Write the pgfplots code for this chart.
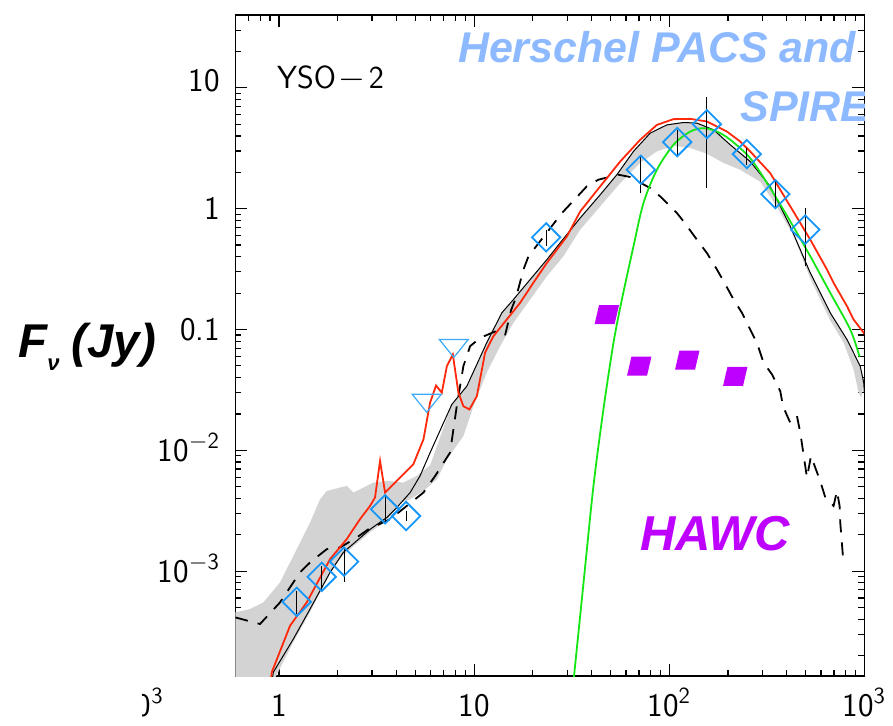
\documentclass[border=0pt]{standalone}
\usepackage{fontspec}
\usepackage{pgfplots}
\pgfplotsset{compat=1.18}
\newfontfamily\arialfont{Liberation Sans}
\definecolor{dblue}{RGB}{20,150,250}
\definecolor{tblue}{RGB}{60,170,250}
\definecolor{hblue}{RGB}{140,185,255}
\definecolor{mag}{RGB}{190,0,255}
\definecolor{rline}{RGB}{255,40,10}
\definecolor{gline}{RGB}{20,230,20}
\definecolor{band}{RGB}{211,211,211}
\pgfdeclareplotmark{odiam}{%
  \pgfpathmoveto{\pgfqpoint{0pt}{7.1pt}}%
  \pgfpathlineto{\pgfqpoint{7.1pt}{0pt}}%
  \pgfpathlineto{\pgfqpoint{0pt}{-7.1pt}}%
  \pgfpathlineto{\pgfqpoint{-7.1pt}{0pt}}%
  \pgfpathclose\pgfusepathqstroke}
\pgfdeclareplotmark{otridown}{%
  \pgfpathmoveto{\pgfqpoint{-7.25pt}{4.5pt}}%
  \pgfpathlineto{\pgfqpoint{7.25pt}{4.5pt}}%
  \pgfpathlineto{\pgfqpoint{0pt}{-4.5pt}}%
  \pgfpathclose\pgfusepathqstroke}
\pgfdeclareplotmark{para}{%
  \pgfpathmoveto{\pgfqpoint{-6.1pt}{-4.75pt}}%
  \pgfpathlineto{\pgfqpoint{3.9pt}{-4.75pt}}%
  \pgfpathlineto{\pgfqpoint{6.1pt}{4.75pt}}%
  \pgfpathlineto{\pgfqpoint{-3.9pt}{4.75pt}}%
  \pgfpathclose\pgfusepathqfill}
\begin{document}
\begin{tikzpicture}
\useasboundingbox (-117.65pt,-24.5pt) rectangle (328.85pt,338pt);
\begin{axis}[
  at={(0,0)}, anchor=south west,
  scale only axis, width=314.5pt, height=330.5pt,
  xmode=log, ymode=log,
  xmin=0.597, xmax=1000, ymin=1.355e-4, ymax=40.1,
  xtick={1,10,100,1000},
  xticklabels={1,10,10\textsuperscript{2},10\textsuperscript{3}},
  ytick={0.001,0.01,0.1,1,10},
  yticklabels={10\textsuperscript{$-$3},10\textsuperscript{$-$2},0.1,1,\raisebox{3.5pt}{10}},
  minor xtick={0.6,0.7,0.8,0.9,2,3,4,5,6,7,8,9,20,30,40,50,60,70,80,90,200,300,400,500,600,700,800,900},
  minor ytick={2e-4,3e-4,4e-4,5e-4,6e-4,7e-4,8e-4,9e-4,2e-3,3e-3,4e-3,5e-3,6e-3,7e-3,8e-3,9e-3,0.02,0.03,0.04,0.05,0.06,0.07,0.08,0.09,0.2,0.3,0.4,0.5,0.6,0.7,0.8,0.9,2,3,4,5,6,7,8,9,20,30,40},
  /pgf/number format/assume math mode=true,
  ticklabel style={font=\sffamily\fontsize{16.5}{18}\selectfont, inner sep=0pt},
  xticklabel style={anchor=base, yshift=-20pt},
  yticklabel style={anchor=base east, yshift=-5.5pt, xshift=-7.5pt},
  major tick length=6pt, minor tick length=3pt,
  tick style={black, line width=0.6pt},
  axis line style={line width=0.7pt},
]
% gray band
\addplot[fill=band, draw=none] coordinates {
(0.597,4.56e-4) (0.710,4.85e-4) (0.831,5.51e-4) (1.012,8.07e-4) (1.232,1.52e-3) (1.442,2.52e-3) (1.623,3.92e-3) (1.757,4.61e-3) (2.055,4.92e-3) (2.224,5.07e-3) (2.405,4.47e-3) (2.71,4.92e-3) (3.045,5.41e-3) (3.57,5.58e-3) (4.34,5.41e-3) (5.08,6.13e-3) (5.95,7.52e-3) (7.69,0.024) (9.18,0.034) (11.6,0.0776) (13.87,0.1374) (15.9,0.177) (19.37,0.259) (23.6,0.379) (27.6,0.521) (34.97,0.838) (44.3,1.305) (53.9,1.91) (65.6,2.98) (79.9,4.22) (97.3,4.94) (118.4,5.17) (138.7,5.11) (168.7,4.50) (205.5,3.38) (260,2.46) (329.4,1.53) (417.4,0.714) (528.6,0.294) (669,0.1374) (815,0.0827) (953,0.0497) (993,0.0363)
(966,0.0274) (935,0.030) (881,0.0467) (783,0.0781) (669,0.1187) (528.6,0.264) (434,0.598) (353.7,1.059) (293,1.67) (231,2.10) (189,2.40) (156,2.85) (128.2,3.18) (105.2,3.32) (86.5,2.98) (71.0,2.39) (56.1,1.63) (44.3,1.045) (35.0,0.671) (28.7,0.404) (23.6,0.276) (19.37,0.177) (15.9,0.1136) (13.6,0.0728) (11.6,0.0439) (9.92,0.0232) (8.81,0.0131) (7.25,8.43e-3) (6.44,5.75e-3) (5.47,4.58e-3) (4.70,3.94e-3) (4.175,3.65e-3) (3.57,2.64e-3) (2.93,2.10e-3) (2.136,1.36e-3) (1.826,9.62e-4) (1.442,4.58e-4) (1.184,2.59e-4) (0.93,1.2e-4) (0.597,1.2e-4)
} -- cycle;
% dashed model
\addplot[black, line width=0.9pt, dash pattern=on 6.5pt off 5pt] coordinates {
(0.597,4.14e-4) (0.799,3.65e-4) (1.012,5.51e-4) (1.281,9.75e-4) (1.442,1.18e-3) (1.757,1.52e-3) (2.055,1.57e-3) (2.503,1.90e-3) (2.87,2.22e-3) (3.71,2.69e-3) (4.52,3.47e-3) (5.50,4.47e-3) (6.31,6.13e-3) (7.53,9.57e-3) (8.15,0.0232) (8.81,0.0497) (9.54,0.0728) (10.74,0.0853) (12.82,0.0963) (14.4,0.0892) (15.5,0.146) (16.4,0.184) (17.9,0.313) (19.0,0.404) (28.2,0.921) (31.7,1.127) (37.8,1.53) (43.4,1.74) (55.0,1.91) (63.1,1.83) (79.9,1.48) (89.9,1.264) (109.5,0.921) (118.4,0.786) (138.7,0.554) (156,0.430) (175.8,0.313) (190,0.251) (213.8,0.177) (236,0.1374) (260,0.100) (281.6,0.0776) (304.6,0.0531) (336.4,0.0425) (371,0.0309) (382.8,0.0232) (417.4,0.0169) (451.6,0.0192) (469.8,0.0140) (508.2,5.94e-3) (533,8.97e-3) (594,5.58e-3) (631,4.07e-3) (696,3.47e-3) (724,4.61e-3) (747,3.47e-3) (753,2.52e-3) (778,1.30e-3)
};
% black best fit
\addplot[black, line width=0.5pt] coordinates {
(0.91,1.06e-4) (0.935,1.455e-4) (1.184,2.74e-4) (1.442,4.85e-4) (1.826,9.75e-4) (2.136,1.43e-3) (2.93,2.22e-3) (3.57,2.78e-3) (4.015,3.36e-3) (4.70,4.47e-3) (5.28,6.13e-3) (5.95,9.57e-3) (7.69,0.024) (9.18,0.034) (11.6,0.0776) (13.87,0.1374) (15.9,0.177) (19.37,0.259) (23.6,0.379) (27.6,0.521) (34.97,0.838) (44.3,1.305) (53.9,1.91) (65.6,2.98) (79.9,4.22) (97.3,4.94) (118.4,5.17) (138.7,5.11) (168.7,4.50) (205.5,3.38) (260,2.46) (329.4,1.53) (417.4,0.714) (528.6,0.294) (669,0.1374) (815,0.0827) (953,0.0497) (993,0.0363) (1000,0.03)
};
% green
\addplot[gline, line width=0.9pt, smooth] coordinates {
(32.0,1.06e-4) (32.6,1.41e-4) (36.4,8.07e-4) (40.9,5.07e-3) (46.0,0.0218) (51.8,0.0776) (57.2,0.177) (65.6,0.488) (73.8,1.114) (86.5,2.10) (105.2,3.38) (128.2,4.35) (150,4.64) (175.8,4.35) (205.5,3.72) (260,2.62) (329.4,1.48) (417.4,0.786) (528.6,0.404) (669,0.201) (847,0.100) (946,0.0595)
};
% red
\addplot[rline, line width=0.9pt] coordinates {
(0.899,1.06e-4) (0.918,1.455e-4) (1.139,3.53e-4) (1.387,5.51e-4) (1.826,1.256e-3) (2.224,1.84e-3) (2.60,2.69e-3) (2.93,3.47e-3) (3.105,4.07e-3) (3.296,8.16e-3) (3.497,4.47e-3) (4.015,5.58e-3) (4.88,7.66e-3) (5.50,0.01233) (5.95,0.0248) (6.38,0.0344) (6.83,0.030) (7.25,0.0497) (7.78,0.0621) (8.31,0.030) (8.81,0.0232) (9.46,0.0218) (10.33,0.0281) (11.38,0.0642) (12.56,0.0881) (14.7,0.121) (17.2,0.166) (20.1,0.243) (23.6,0.356) (29.9,0.590) (35.0,0.950) (44.3,1.53) (56.1,2.46) (71.0,3.72) (86.5,4.94) (105.2,5.51) (128.2,5.54) (156,5.27) (197.6,4.35) (231,3.60) (260,2.98) (329.4,1.97) (417.4,1.045) (528.6,0.554) (644,0.313) (696,0.243) (815,0.156) (881,0.121) (993,0.094) (1000,0.092)
};
% error bars
\addplot[draw=none, mark=none, error bars/.cd, y dir=both, y explicit, error mark=none, error bar style={black, line width=0.5pt}] coordinates {
(1.232,5.57e-4) += (0,1.30e-4) -= (0,1.16e-4)
(1.655,8.97e-4) += (0,2.10e-4) -= (0,2.30e-4)
(2.154,1.20e-3) += (0,3.7e-4) -= (0,3.84e-4)
(3.497,3.25e-3) += (0,1.0e-3) -= (0,7.2e-4)
(4.48,2.86e-3) += (0,2.9e-4) -= (0,2.6e-4)
(23.4,0.579) += (0,0.091) -= (0,0.091)
(71.6,2.10) += (0,0.69) -= (0,0.74)
(109.9,3.56) += (0,0.94) -= (0,0.86)
(156,5.01) += (0,3.47) -= (0,3.53)
(250,2.83) += (0,0.38) -= (0,0.52)
(350,1.32) += (0,0.42) -= (0,0.31)
(498,0.671) += (0,0.339) -= (0,0.333)
};
% diamonds
\addplot[only marks, dblue, mark=odiam, mark options={line width=0.9pt}] coordinates {
(1.232,5.57e-4) (1.655,8.97e-4) (2.154,1.20e-3) (3.497,3.25e-3) (4.48,2.86e-3) (23.4,0.579) (71.6,2.10) (109.9,3.56) (156,5.01) (250,2.83) (350,1.32) (498,0.671)
};
% upper limits
\addplot[only marks, tblue, mark=otridown, mark options={line width=0.6pt}] coordinates {
(5.72,0.0245) (7.87,0.0697)
};
% HAWC
\addplot[only marks, mag, mark=para] coordinates {
(47.9,0.133) (70.2,0.0497) (123.7,0.0557) (218,0.0409)
};
\end{axis}
\begin{scope}
\clip (0,0) rectangle (314.5pt,330.5pt);
\node[anchor=base east, inner sep=0pt, text=hblue, font=\arialfont\bfseries\itshape\fontsize{21.5}{24}\selectfont] at (310.7pt,306.5pt) {Herschel PACS and};
\node[anchor=base east, inner sep=0pt, text=hblue, font=\arialfont\bfseries\itshape\fontsize{21.5}{24}\selectfont] at (317.35pt,277.2pt) {SPIRE};
\end{scope}
\node[anchor=center, inner sep=0pt, text=mag, font=\arialfont\bfseries\itshape\fontsize{24.5}{26}\selectfont] at (239.85pt,71pt) {HAWC};
\node[anchor=base west, inner sep=0pt, font=\sffamily\fontsize{16}{18}\selectfont] at (20.7pt,293.85pt) {YSO\hspace{1.5pt}$-$\hspace{1.5pt}2};
\node[anchor=base west, inner sep=0pt, font=\arialfont\bfseries\itshape\fontsize{23.7}{26}\selectfont] at (-108.65pt,159.5pt) {F\raisebox{-6.5pt}{\fontsize{11}{11}\selectfont ν}\hspace{6pt}(Jy)};
\begin{scope}
\clip (-46.15pt,-40pt) rectangle (-20pt,0pt);
\node[anchor=base east, inner sep=0pt, font=\sffamily\fontsize{16.5}{18}\selectfont] at (-35.65pt,-20pt) {10\textsuperscript{3}};
\end{scope}
\end{tikzpicture}
\end{document}
